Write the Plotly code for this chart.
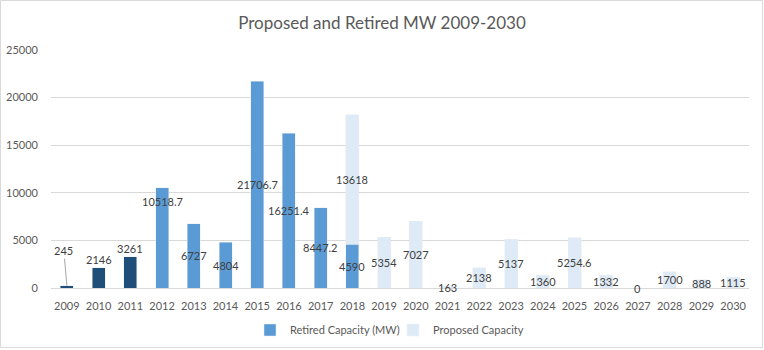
import plotly.graph_objects as go

years = list(range(2009, 2031))
retired = [245, 2146, 3261, 10518.7, 6727, 4804, 21706.7, 16251.4, 8447.2, 4590,
           None, None, None, None, None, None, None, None, None, None, None, None]
proposed = [None, None, None, None, None, None, None, None, None, 13618,
            5354, 7027, 163, 2138, 5137, 1360, 5254.6, 1332, 0, 1700, 888, 1115]

W, H = 764, 350
ML, MR, MT, MB = 51, 15, 50, 62
PW, PH = W - ML - MR, H - MT - MB

DARK = "#1F4E79"
MID = "#5B9BD5"
LIGHT = "#DEEBF7"
TXT = "#595959"
LBL = "#404040"
FONT = "Lato"


def fmt(v):
    return str(int(v)) if float(v).is_integer() else str(v)


n_dark = 3
fig = go.Figure()
fig.add_trace(go.Bar(
    x=years[:n_dark], y=retired[:n_dark], marker_color=DARK,
    name="Retired Capacity (MW)", legendgroup="ret", showlegend=False,
))
fig.add_trace(go.Bar(
    x=years[n_dark:], y=retired[n_dark:], marker_color=MID,
    name="Retired Capacity (MW)", legendgroup="ret",
))
fig.add_trace(go.Bar(
    x=years, y=proposed, marker_color=LIGHT, name="Proposed Capacity",
))

annotations = []
for i, yr in enumerate(years):
    r = retired[i]
    p = proposed[i]
    base = r if r is not None else 0
    if r is not None:
        if i == 0:
            annotations.append(dict(x=yr, y=r, text=fmt(r), showarrow=True,
                                    ax=-3, ay=-35, arrowhead=0, arrowwidth=1,
                                    arrowcolor="#A6A6A6", standoff=0))
        elif i < n_dark:
            annotations.append(dict(x=yr, y=r, text=fmt(r), showarrow=False,
                                    yanchor="bottom", yshift=0))
        elif i == n_dark:
            annotations.append(dict(x=yr, y=r, text=fmt(r), showarrow=False,
                                    yanchor="top", yshift=-5))
        else:
            annotations.append(dict(x=yr, y=r / 2, text=fmt(r), showarrow=False,
                                    yanchor="middle"))
    if p is not None:
        annotations.append(dict(x=yr, y=base + p / 2, text=fmt(p), showarrow=False,
                                yanchor="middle"))
for a in annotations:
    a["font"] = dict(family=FONT, size=11, color=LBL)

fig.update_layout(
    width=W, height=H, autosize=False,
    margin=dict(l=ML, r=MR, t=MT, b=MB, pad=0),
    barmode="stack", bargap=0.59,
    plot_bgcolor="white", paper_bgcolor="white",
    font=dict(family=FONT, color=TXT, size=11),
    title=dict(text="Proposed and Retired MW 2009-2030", x=0.5, xanchor="center",
               y=1 - 23 / H, yanchor="middle",
               font=dict(family=FONT, size=17, color=TXT)),
    xaxis=dict(type="linear", range=[years[0] - 0.5, years[-1] + 0.5],
               tickmode="linear", tick0=years[0], dtick=1, tickformat="d",
               showgrid=False, showline=False, zeroline=False, ticks="",
               ticklabelstandoff=10, automargin=False,
               tickfont=dict(family=FONT, size=11, color=TXT)),
    yaxis=dict(range=[0, 25000], dtick=5000, tickformat="d", showgrid=True,
               gridcolor="#D9D9D9", gridwidth=1, zeroline=True,
               zerolinecolor="#D9D9D9", zerolinewidth=1,
               showline=False, ticks="", ticklabelstandoff=12, automargin=False,
               tickfont=dict(family=FONT, size=11, color=TXT)),
    legend=dict(orientation="h", xref="container", x=(250) / W, xanchor="left",
                yref="container", y=1 - 330 / H,
                yanchor="middle", font=dict(family=FONT, size=11, color=TXT),
                traceorder="normal", itemwidth=30,
                entrywidth=98, entrywidthmode="pixels"),
    annotations=annotations,
    shapes=[dict(type="rect", xref="paper", yref="paper",
                 x0=(0.5 - ML) / PW, x1=(W - 1.5 - ML) / PW,
                 y0=(MT + PH - (H - 2.5)) / PH, y1=(MT + PH - 0.5) / PH,
                 line=dict(color="#D9D9D9", width=1), layer="below")],
)

fig.write_html("out.html")
